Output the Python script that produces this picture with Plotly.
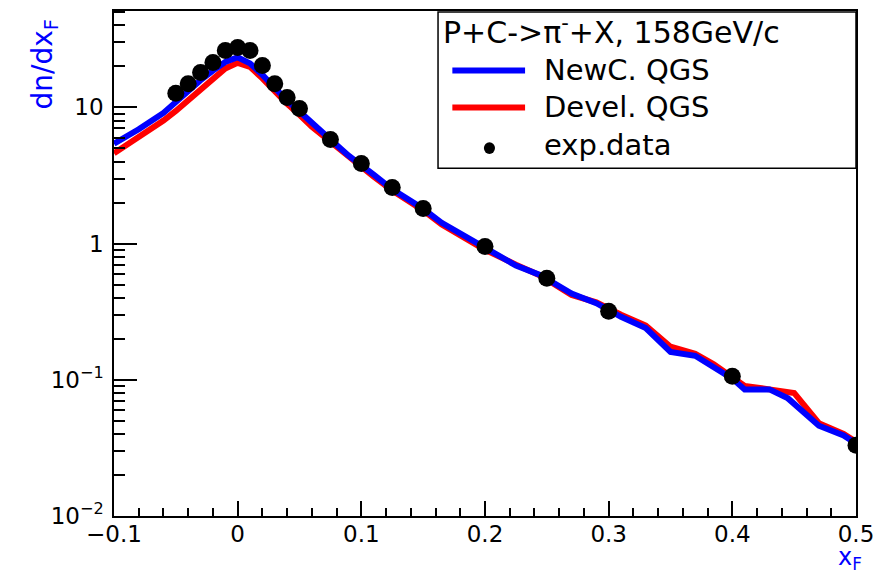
import plotly.graph_objects as go

# experimental data
x_data = [-0.05, -0.04, -0.03, -0.02, -0.01, 0.0, 0.01, 0.02, 0.03, 0.04, 0.05,
          0.075, 0.1, 0.125, 0.15, 0.2, 0.25, 0.3, 0.4, 0.5]
y_data = [12.7, 14.9, 18.0, 21.3, 26.1, 27.5, 26.1, 20.3, 14.9, 11.8, 9.8,
          5.8, 3.87, 2.58, 1.81, 0.953, 0.556, 0.318, 0.106, 0.0331]

# NewC. QGS model
x_blue = [-0.1, -0.08, -0.06, -0.05, -0.04, -0.03, -0.02, -0.01, 0.0, 0.01, 0.02,
          0.03, 0.04, 0.05, 0.06, 0.075, 0.09, 0.1, 0.11, 0.125, 0.14, 0.15, 0.165,
          0.18, 0.2, 0.225, 0.245, 0.27, 0.29, 0.31, 0.33, 0.35, 0.37, 0.385, 0.4,
          0.41, 0.43, 0.445, 0.47, 0.49, 0.5]
y_blue = [5.4, 6.9, 9.1, 11.0, 13.0, 15.8, 18.6, 21.5, 23.3, 21.0, 17.3,
          13.8, 11.2, 9.3, 7.6, 5.8, 4.4, 3.8, 3.2, 2.5, 2.05, 1.8, 1.42,
          1.18, 0.93, 0.69, 0.585, 0.43, 0.365, 0.29, 0.24, 0.16, 0.15, 0.124, 0.102,
          0.085, 0.085, 0.073, 0.046, 0.039, 0.034]

# Devel. QGS model
x_red = [-0.1, -0.08, -0.06, -0.05, -0.04, -0.03, -0.02, -0.01, 0.0, 0.01, 0.02,
         0.03, 0.04, 0.05, 0.06, 0.075, 0.09, 0.1, 0.11, 0.125, 0.14, 0.15, 0.165,
         0.18, 0.2, 0.225, 0.245, 0.27, 0.29, 0.31, 0.33, 0.35, 0.37, 0.385, 0.4,
         0.41, 0.43, 0.45, 0.47, 0.49, 0.5]
y_red = [4.6, 6.0, 8.0, 9.4, 11.2, 13.5, 16.3, 19.3, 21.2, 19.8, 16.3,
         13.0, 10.6, 8.8, 7.2, 5.6, 4.3, 3.7, 3.1, 2.45, 2.0, 1.75, 1.38,
         1.15, 0.9, 0.70, 0.58, 0.42, 0.37, 0.30, 0.25, 0.175, 0.155, 0.13, 0.104,
         0.09, 0.085, 0.080, 0.048, 0.040, 0.035]

y_tickvals = [0.01, 0.1, 1, 10]
y_ticktext = ["10<sup>\u22122</sup>", "10<sup>\u22121</sup>", "1", "10"]
y_minor = [m * 10.0 ** e for e in range(-2, 2) for m in range(2, 10)]

FONT = "DejaVu Sans"
BLUE = "#0000ff"
RED = "#ff0000"

fig = go.Figure()
fig.add_trace(go.Scatter(x=x_red, y=y_red, mode="lines",
                         line=dict(color=RED, width=6), showlegend=False))
fig.add_trace(go.Scatter(x=x_blue, y=y_blue, mode="lines",
                         line=dict(color=BLUE, width=6), showlegend=False))
fig.add_trace(go.Scatter(x=x_data, y=y_data, mode="markers",
                         marker=dict(color="black", size=17), showlegend=False))

fig.update_xaxes(range=[-0.1, 0.5], dtick=0.1, tick0=0, ticks="inside", ticklen=15,
                 tickwidth=1.5, tickcolor="black", showline=True, mirror=True,
                 linecolor="black", linewidth=1.5, showgrid=False, zeroline=False,
                 automargin=False, ticklabelstandoff=-3,
                 tickfont=dict(family=FONT, size=23, color="black"),
                 minor=dict(dtick=0.02, ticks="inside", ticklen=8, tickwidth=1.5,
                            tickcolor="black", showgrid=False))
fig.update_yaxes(type="log", range=[-2, 1.707], tickvals=y_tickvals, ticktext=y_ticktext,
                 ticks="inside", ticklen=23, tickwidth=1.5, tickcolor="black",
                 showline=True, mirror=True, linecolor="black", linewidth=1.5,
                 showgrid=False, zeroline=False, automargin=False, ticklabelstandoff=4,
                 tickfont=dict(family=FONT, size=23, color="black"),
                 minor=dict(tickvals=y_minor, ticks="inside", ticklen=11, tickwidth=1.5,
                            tickcolor="black", showgrid=False))

# legend box
fig.add_shape(type="rect", xref="paper", yref="paper", x0=0.4367, x1=1.0, y0=0.6887, y1=0.998,
              line=dict(color="black", width=1.5), fillcolor="white", layer="above")
fig.add_shape(type="line", xref="paper", yref="paper", x0=0.456, x1=0.554, y0=0.882, y1=0.882,
              line=dict(color=BLUE, width=6))
fig.add_shape(type="line", xref="paper", yref="paper", x0=0.456, x1=0.554, y0=0.809, y1=0.809,
              line=dict(color=RED, width=6))
fig.add_shape(type="circle", xref="paper", yref="paper", x0=0.4985, x1=0.5135, y0=0.717, y1=0.740,
              line=dict(color="black", width=0), fillcolor="black")

ann_font = dict(family=FONT, size=29, color="black")
fig.add_annotation(xref="paper", yref="paper", x=0.441, y=0.962, xanchor="left", yanchor="middle",
                   text="P+C->\u03c0<sup>-</sup>+X, 158GeV/c", showarrow=False,
                   font=dict(family=FONT, size=30, color="black"))
fig.add_annotation(xref="paper", yref="paper", x=0.577, y=0.883, xanchor="left", yanchor="middle",
                   text="NewC. QGS", showarrow=False, font=ann_font)
fig.add_annotation(xref="paper", yref="paper", x=0.577, y=0.810, xanchor="left", yanchor="middle",
                   text="Devel. QGS", showarrow=False, font=ann_font)
fig.add_annotation(xref="paper", yref="paper", x=0.577, y=0.734, xanchor="left", yanchor="middle",
                   text="exp.data", showarrow=False, font=ann_font)

# axis titles
fig.add_annotation(xref="paper", yref="paper", x=-0.093, y=0.99, xanchor="center", yanchor="top",
                   text="dn/dx<sub>F</sub>", textangle=-90, showarrow=False,
                   font=dict(family=FONT, size=28, color=BLUE))
fig.add_annotation(xref="paper", yref="paper", x=1.01, y=-0.116, xanchor="right", yanchor="bottom",
                   text="x<sub>F</sub>", showarrow=False, borderpad=0,
                   font=dict(family=FONT, size=24, color=BLUE))

# page body has an 8px margin: shift figure so the plot area lands where the reference has it
fig.update_layout(width=879, height=565, margin=dict(l=106, r=31, t=3, b=57),
                  paper_bgcolor="white", plot_bgcolor="white", showlegend=False)

fig.write_html("out.html")
